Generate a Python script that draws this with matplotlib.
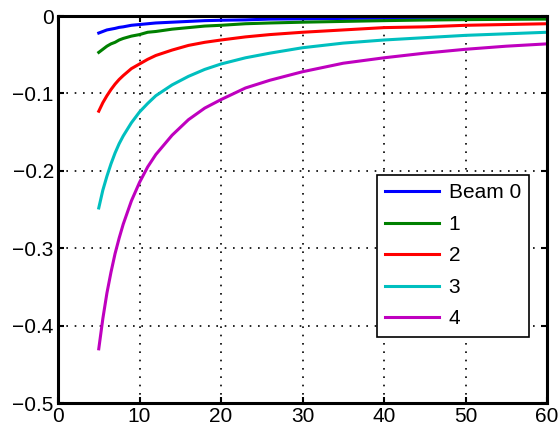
import numpy as np
import matplotlib.pyplot as plt

# values (y at each x)
x = [5, 5.5, 6, 6.5, 7, 7.5, 8, 9, 10, 11, 12, 14, 16, 18, 20, 23, 26, 30, 35, 40, 45, 50, 55, 60]

beam0 = [-0.022, -0.020, -0.018, -0.017, -0.016, -0.0147, -0.014, -0.012, -0.011, -0.010, -0.009,
         -0.008, -0.007, -0.006, -0.0055, -0.005, -0.004, -0.0037, -0.0031, -0.0028, -0.0024,
         -0.0022, -0.002, -0.0018]
beam1 = [-0.047, -0.043, -0.039, -0.036, -0.034, -0.031, -0.029, -0.026, -0.024, -0.021, -0.020,
         -0.017, -0.015, -0.013, -0.012, -0.010, -0.009, -0.008, -0.007, -0.006, -0.0052, -0.0047,
         -0.0043, -0.004]
beam2 = [-0.123, -0.112, -0.103, -0.095, -0.088, -0.082, -0.077, -0.068, -0.062, -0.056, -0.051,
         -0.044, -0.038, -0.034, -0.031, -0.027, -0.024, -0.021, -0.018, -0.015, -0.014, -0.012,
         -0.011, -0.010]
beam3 = [-0.248, -0.225, -0.207, -0.191, -0.177, -0.165, -0.155, -0.138, -0.124, -0.113, -0.103,
         -0.089, -0.078, -0.069, -0.062, -0.054, -0.048, -0.041, -0.035, -0.031, -0.028, -0.025,
         -0.023, -0.021]
beam4 = [-0.430, -0.391, -0.358, -0.331, -0.307, -0.287, -0.269, -0.239, -0.215, -0.195, -0.179,
         -0.154, -0.134, -0.119, -0.108, -0.093, -0.083, -0.072, -0.061, -0.054, -0.048, -0.043,
         -0.039, -0.036]

labels = ['Beam 0', '1', '2', '3', '4']
colors = ['#0000ff', '#008000', '#ff0000', '#00bfbf', '#bf00bf']

plt.rcParams['font.family'] = ['Liberation Sans', 'DejaVu Sans']
plt.rcParams['font.size'] = 15

fig = plt.figure(figsize=(5.6, 4.29), dpi=100, facecolor='w')
ax = fig.add_axes([0.1036, 0.0606, 0.8732, 0.9021])

for ys, lab, c in zip([beam0, beam1, beam2, beam3, beam4], labels, colors):
    ax.plot(x, ys, '-', color=c, lw=2.2, label=lab)

ax.set_xlim(0, 60)
ax.set_ylim(-0.5, 0)
ax.set_xticks([0, 10, 20, 30, 40, 50, 60])
ax.set_yticks([-0.5, -0.4, -0.3, -0.2, -0.1, 0])
ax.set_yticklabels(['\u22120.5', '\u22120.4', '\u22120.3', '\u22120.2', '\u22120.1', '0'])
ax.grid(True, color='k', linestyle=(0, (1, 4)), linewidth=1.2)
ax.tick_params(direction='in', top=True, right=True, length=4, width=1.5, pad=3)
for s in ax.spines.values():
    s.set_linewidth(2.2)

leg = ax.legend(loc='upper left', bbox_to_anchor=(0.652, 0.589), borderaxespad=0,
                fancybox=False, framealpha=1, edgecolor='k', handlelength=2.6,
                labelspacing=0.6, handletextpad=0.45, borderpad=0.4)
leg.get_frame().set_linewidth(1.2)

plt.savefig('out.png', dpi=100)
